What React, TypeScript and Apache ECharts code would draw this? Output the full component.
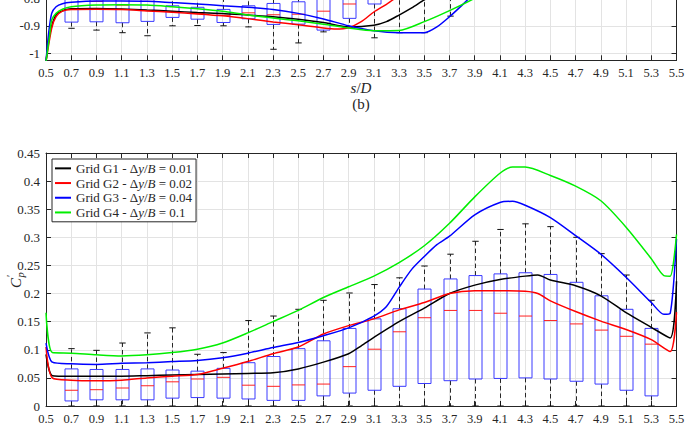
import React, { useEffect, useRef } from 'react';
import * as echarts from 'echarts';

// ---------- DATA ----------
const seriesNames = [
  'Grid G1 - Δy/B = 0.01',
  'Grid G2 - Δy/B = 0.02',
  'Grid G3 - Δy/B = 0.04',
  'Grid G4 - Δy/B = 0.1',
];

// panel (b): Cp mean (top, clipped)
const topG1 = [[0.5,-1.03],[0.53,-0.93],[0.58,-0.86],[0.65,-0.842],[0.7,-0.838],[0.9,-0.837],[1.1,-0.839],[1.3,-0.843],[1.5,-0.847],[1.7,-0.852],[1.9,-0.855],[2.1,-0.861],[2.3,-0.867],[2.5,-0.876],[2.7,-0.888],[2.9,-0.904],[3.1,-0.898],[3.2,-0.885],[3.3,-0.861],[3.4,-0.835],[3.5,-0.806],[3.6,-0.78],[3.7,-0.75]];
const topG2 = [[0.5,-1.03],[0.545,-0.909],[0.58,-0.867],[0.63,-0.847],[0.7,-0.841],[0.9,-0.84],[1.1,-0.841],[1.3,-0.846],[1.5,-0.851],[1.7,-0.857],[1.9,-0.864],[2.1,-0.874],[2.3,-0.886],[2.5,-0.896],[2.7,-0.908],[2.8,-0.912],[2.9,-0.907],[3.0,-0.885],[3.1,-0.85],[3.2,-0.822],[3.3,-0.79]];
const topG3 = [[0.5,-1.03],[0.52,-0.93],[0.545,-0.855],[0.58,-0.831],[0.63,-0.82],[0.7,-0.815],[0.9,-0.81],[1.1,-0.81],[1.3,-0.811],[1.5,-0.816],[1.7,-0.821],[1.9,-0.827],[2.1,-0.833],[2.3,-0.841],[2.5,-0.855],[2.7,-0.875],[2.9,-0.9],[3.1,-0.918],[3.3,-0.925],[3.5,-0.925],[3.6,-0.904],[3.7,-0.867],[3.8,-0.825],[3.9,-0.78]];
const topG4 = [[0.5,-1.03],[0.53,-0.93],[0.545,-0.879],[0.58,-0.855],[0.63,-0.84],[0.7,-0.831],[0.9,-0.825],[1.1,-0.824],[1.3,-0.825],[1.5,-0.831],[1.7,-0.838],[1.9,-0.847],[2.1,-0.861],[2.3,-0.872],[2.5,-0.882],[2.7,-0.894],[2.9,-0.908],[3.1,-0.918],[3.3,-0.917],[3.5,-0.885],[3.7,-0.845],[3.9,-0.8],[4.0,-0.77]];
// [s/D, lower whisker, Q1, median, Q3, upper whisker]
const topBoxes = [
  [0.7,-0.909,-0.8866,-0.80,-0.77,-0.74],
  [0.9,-0.9156,-0.8855,-0.812,-0.775,-0.74],
  [1.1,-0.925,-0.889,-0.825,-0.78,-0.74],
  [1.3,-0.936,-0.884,-0.805,-0.78,-0.74],
  [1.5,-0.90,-0.8696,-0.848,-0.8275,-0.79],
  [1.7,-0.899,-0.876,-0.855,-0.833,-0.80],
  [1.9,-0.90,-0.888,-0.862,-0.8406,-0.80],
  [2.1,-0.904,-0.8746,-0.853,-0.8275,-0.79],
  [2.3,-0.985,-0.895,-0.86,-0.819,-0.74],
  [2.5,-0.962,-0.894,-0.858,-0.813,-0.74],
  [2.7,-0.922,-0.9156,-0.847,-0.79,-0.72],
  [2.9,-0.905,-0.873,-0.821,-0.78,-0.70],
  [3.1,-0.9435,-0.821,-0.79,-0.76,-0.68],
  [3.3,-0.925,-0.78,-0.75,-0.72,-0.64],
  [3.5,-0.925,-0.76,-0.72,-0.68,-0.62],
  [3.7,-0.865,-0.74,-0.70,-0.66,-0.60],
];

// panel (c): C'p (bottom)
const botG1 = [[0.5,0.092],[0.55,0.054],[0.7,0.053],[0.9,0.053],[1.1,0.053],[1.3,0.054],[1.5,0.055],[1.7,0.056],[1.9,0.057],[2.1,0.058],[2.3,0.059],[2.5,0.066],[2.7,0.078],[2.9,0.093],[3.0,0.107],[3.1,0.122],[3.3,0.150],[3.5,0.174],[3.7,0.200],[3.9,0.215],[4.1,0.225],[4.3,0.231],[4.4,0.233],[4.5,0.224],[4.7,0.214],[4.9,0.196],[5.1,0.166],[5.3,0.140],[5.45,0.121],[5.5,0.222]];
const botG2 = [[0.5,0.105],[0.55,0.050],[0.7,0.046],[0.9,0.045],[1.1,0.046],[1.3,0.050],[1.5,0.053],[1.7,0.056],[1.9,0.067],[2.1,0.079],[2.3,0.093],[2.5,0.105],[2.7,0.128],[2.9,0.143],[3.1,0.155],[3.3,0.171],[3.5,0.184],[3.7,0.200],[3.9,0.205],[4.1,0.205],[4.3,0.204],[4.4,0.200],[4.5,0.187],[4.7,0.168],[4.9,0.151],[5.1,0.136],[5.3,0.118],[5.45,0.097],[5.5,0.167]];
const botG3 = [[0.5,0.112],[0.55,0.078],[0.7,0.075],[0.9,0.074],[1.1,0.076],[1.3,0.077],[1.5,0.079],[1.7,0.081],[1.9,0.086],[2.1,0.094],[2.3,0.104],[2.5,0.113],[2.7,0.125],[2.9,0.139],[3.1,0.160],[3.2,0.177],[3.3,0.211],[3.4,0.243],[3.5,0.266],[3.6,0.287],[3.7,0.302],[3.9,0.340],[4.1,0.362],[4.2,0.364],[4.3,0.357],[4.5,0.335],[4.7,0.303],[4.9,0.270],[5.1,0.229],[5.3,0.184],[5.4,0.163],[5.45,0.165],[5.5,0.297]];
const botG4 = [[0.5,0.166],[0.55,0.095],[0.7,0.094],[0.9,0.091],[1.1,0.089],[1.3,0.091],[1.5,0.095],[1.7,0.101],[1.9,0.112],[2.1,0.130],[2.3,0.150],[2.5,0.170],[2.7,0.193],[2.9,0.212],[3.1,0.231],[3.3,0.255],[3.5,0.285],[3.7,0.325],[3.9,0.372],[4.1,0.414],[4.2,0.425],[4.3,0.425],[4.5,0.410],[4.7,0.391],[4.9,0.365],[5.1,0.318],[5.3,0.262],[5.4,0.232],[5.45,0.231],[5.5,0.305]];
const botBoxes = [
  [0.7,0,0.009,0.028,0.066,0.102],
  [0.9,0,0.011,0.029,0.065,0.099],
  [1.1,0,0.011,0.032,0.065,0.112],
  [1.3,0,0.011,0.036,0.066,0.130],
  [1.5,0,0.014,0.043,0.064,0.139],
  [1.7,0,0.015,0.048,0.062,0.092],
  [1.9,0,0.014,0.051,0.067,0.095],
  [2.1,0,0.0125,0.037,0.077,0.152],
  [2.3,0,0.010,0.035,0.088,0.160],
  [2.5,0,0.010,0.0375,0.102,0.172],
  [2.7,0,0.018,0.039,0.116,0.188],
  [2.9,0,0.023,0.070,0.138,0.201],
  [3.1,0,0.028,0.101,0.155,0.216],
  [3.3,0,0.035,0.132,0.173,0.228],
  [3.5,0,0.040,0.157,0.208,0.249],
  [3.7,0,0.045,0.170,0.226,0.270],
  [3.9,0,0.048,0.170,0.232,0.293],
  [4.1,0,0.049,0.165,0.235,0.314],
  [4.3,0,0.050,0.160,0.237,0.324],
  [4.5,0,0.048,0.152,0.234,0.319],
  [4.7,0,0.044,0.146,0.220,0.300],
  [4.9,0,0.039,0.135,0.196,0.271],
  [5.1,0,0.028,0.124,0.172,0.233],
  [5.3,0,0.018,0.110,0.138,0.188],
];

// ---------- STYLE ----------
const FONT = 'Liberation Serif';
const INK = '#262626';
const GRIDC = '#e3e3e3';
const COLORS = ['#000000', '#ff0000', '#0000ff', '#00ee00'];

const boxRender = (params: any, api: any) => {
  const x = api.value(0);
  const lo = api.coord([x, api.value(1)]);
  const q1 = api.coord([x, api.value(2)]);
  const md = api.coord([x, api.value(3)]);
  const q3 = api.coord([x, api.value(4)]);
  const hi = api.coord([x, api.value(5)]);
  const cx = Math.round(lo[0]) + 0.5;
  const hw = 6.5;
  const cw = 3.2;
  const dash = { stroke: '#111', lineWidth: 0.9, lineDash: [4.5, 3], fill: null };
  const solid = { stroke: '#111', lineWidth: 1, fill: null };
  return {
    type: 'group',
    children: [
      { type: 'line', shape: { x1: cx, y1: q3[1], x2: cx, y2: hi[1] }, style: dash },
      { type: 'line', shape: { x1: cx, y1: q1[1], x2: cx, y2: lo[1] }, style: dash },
      { type: 'line', shape: { x1: cx - cw, y1: hi[1], x2: cx + cw, y2: hi[1] }, style: solid },
      { type: 'line', shape: { x1: cx - cw, y1: lo[1], x2: cx + cw, y2: lo[1] }, style: solid },
      { type: 'rect', shape: { x: cx - hw, y: q3[1], width: 2 * hw, height: q1[1] - q3[1] }, style: { fill: null, stroke: '#3a3aff', lineWidth: 1 } },
      { type: 'line', shape: { x1: cx - hw, y1: md[1], x2: cx + hw, y2: md[1] }, style: { stroke: '#ff2020', lineWidth: 1 } },
    ],
  };
};

const xAxisDef = (gridIndex: number, position: string, main: boolean) => ({
  type: 'value', gridIndex, position, min: 0.5, max: 5.5, interval: 0.2,
  axisLine: { show: true, onZero: false, lineStyle: { color: INK, width: 1 } },
  axisTick: { show: true, inside: true, length: 5, lineStyle: { color: INK, width: 1 } },
  axisLabel: { show: main, margin: 6, fontFamily: FONT, fontSize: 12.5, color: INK, formatter: (v: number) => v.toFixed(1) },
  splitLine: { show: main, lineStyle: { color: GRIDC, width: 1 } },
});

const yAxisDef = (gridIndex: number, position: string, main: boolean, extra: any) => ({
  type: 'value', gridIndex, position,
  axisLine: { show: true, onZero: false, lineStyle: { color: INK, width: 1 } },
  axisTick: { show: true, inside: true, length: 5, lineStyle: { color: INK, width: 1 } },
  axisLabel: { show: main, margin: 6, fontFamily: FONT, fontSize: 13, color: INK, showMinLabel: extra.showMin, formatter: (v: number) => String(+v.toFixed(3)) },
  splitLine: { show: main, lineStyle: { color: GRIDC, width: 1 } },
  ...extra.range,
});

const lineSeries = (data: number[][], i: number, xi: number, yi: number) => ({
  type: 'line', name: seriesNames[i], data, xAxisIndex: xi, yAxisIndex: yi,
  showSymbol: false, symbol: 'none', smooth: 0.25, clip: true, z: 5,
  lineStyle: { color: COLORS[i], width: 1.5 }, itemStyle: { color: COLORS[i] },
});

export default function App() {
  const ref = useRef<HTMLDivElement>(null);
  useEffect(() => {
    if (!ref.current) return;
    const chart = echarts.init(ref.current, null, { renderer: 'svg' });
    const legendRich = {
      n: { fontFamily: FONT, fontSize: 13, color: INK },
      i: { fontFamily: FONT, fontSize: 13, color: INK, fontStyle: 'italic' },
    };
    chart.setOption({
      animation: false,
      backgroundColor: '#ffffff',
      grid: [
        { left: 46, right: 10.5, top: -57, height: 117.3, outerBoundsMode: 'none', containLabel: false },
        { left: 46, right: 10.5, top: 153, height: 253, outerBoundsMode: 'none', containLabel: false },
      ],
      xAxis: [
        xAxisDef(0, 'bottom', true),
        xAxisDef(0, 'top', false),
        xAxisDef(1, 'bottom', true),
        xAxisDef(1, 'top', false),
      ],
      yAxis: [
        yAxisDef(0, 'left', true, { showMin: false, range: { min: -1.025, max: -0.6 } }),
        yAxisDef(0, 'right', false, { showMin: false, range: { min: -1.025, max: -0.6 } }),
        yAxisDef(1, 'left', true, { showMin: true, range: { min: 0, max: 0.45, interval: 0.05 } }),
        yAxisDef(1, 'right', false, { showMin: true, range: { min: 0, max: 0.45, interval: 0.05 } }),
      ],
      legend: {
        orient: 'vertical', left: 52, top: 159,
        data: seriesNames,
        icon: 'rect', itemWidth: 16, itemHeight: 2, itemGap: 0,
        padding: [2, 4, 2, 3],
        backgroundColor: '#ffffff', borderColor: INK, borderWidth: 1,
        textStyle: { fontFamily: FONT, fontSize: 13, color: INK, lineHeight: 14.7, rich: legendRich },
        formatter: (name: string) => {
          const m = name.match(/^(Grid G\d) - Δy\/B = (.*)$/);
          if (!m) return name;
          return `{n|${m[1]} - Δ}{i|y}{n|/}{i|B}{n| = ${m[2]}}`;
        },
        selectedMode: false,
      },
      graphic: [
        {
          type: 'text', x: 361, y: 88,
          style: {
            text: '{i|s}{n|/}{i|D}', align: 'center', verticalAlign: 'middle',
            rich: {
              i: { fontFamily: FONT, fontSize: 15, fontStyle: 'italic', fill: INK },
              n: { fontFamily: FONT, fontSize: 15, fill: INK },
            },
          },
        },
        {
          type: 'text', x: 361, y: 104,
          style: { text: '(b)', fontFamily: FONT, fontSize: 15, fill: INK, align: 'center', verticalAlign: 'middle' },
        },
        {
          type: 'group', x: 16, y: 280, rotation: Math.PI / 2,
          children: [
            { type: 'text', x: -8, y: 0, style: { text: 'C', fontFamily: FONT, fontSize: 15, fontStyle: 'italic', fill: INK, align: 'left', verticalAlign: 'middle' } },
            { type: 'text', x: 3, y: -6, style: { text: '′', fontFamily: FONT, fontSize: 11, fill: INK, align: 'left', verticalAlign: 'middle' } },
            { type: 'text', x: 2.5, y: 4, style: { text: 'p', fontFamily: FONT, fontSize: 10.5, fontStyle: 'italic', fill: INK, align: 'left', verticalAlign: 'middle' } },
          ],
        },
      ],
      series: [
        { type: 'custom', name: 'box-top', xAxisIndex: 0, yAxisIndex: 0, data: topBoxes, renderItem: boxRender, clip: true, z: 2, encode: { x: 0, y: [1, 2, 3, 4, 5] } },
        { type: 'custom', name: 'box-bot', xAxisIndex: 2, yAxisIndex: 2, data: botBoxes, renderItem: boxRender, clip: true, z: 2, encode: { x: 0, y: [1, 2, 3, 4, 5] } },
        lineSeries(topG1, 0, 0, 0),
        lineSeries(topG2, 1, 0, 0),
        lineSeries(topG3, 2, 0, 0),
        lineSeries(topG4, 3, 0, 0),
        lineSeries(botG1, 0, 2, 2),
        lineSeries(botG2, 1, 2, 2),
        lineSeries(botG3, 2, 2, 2),
        lineSeries(botG4, 3, 2, 2),
      ],
    });
    return () => chart.dispose();
  }, []);
  return <div ref={ref} style={{ width: 687, height: 428, position: 'absolute', left: 0, top: 0 }} />;
}
